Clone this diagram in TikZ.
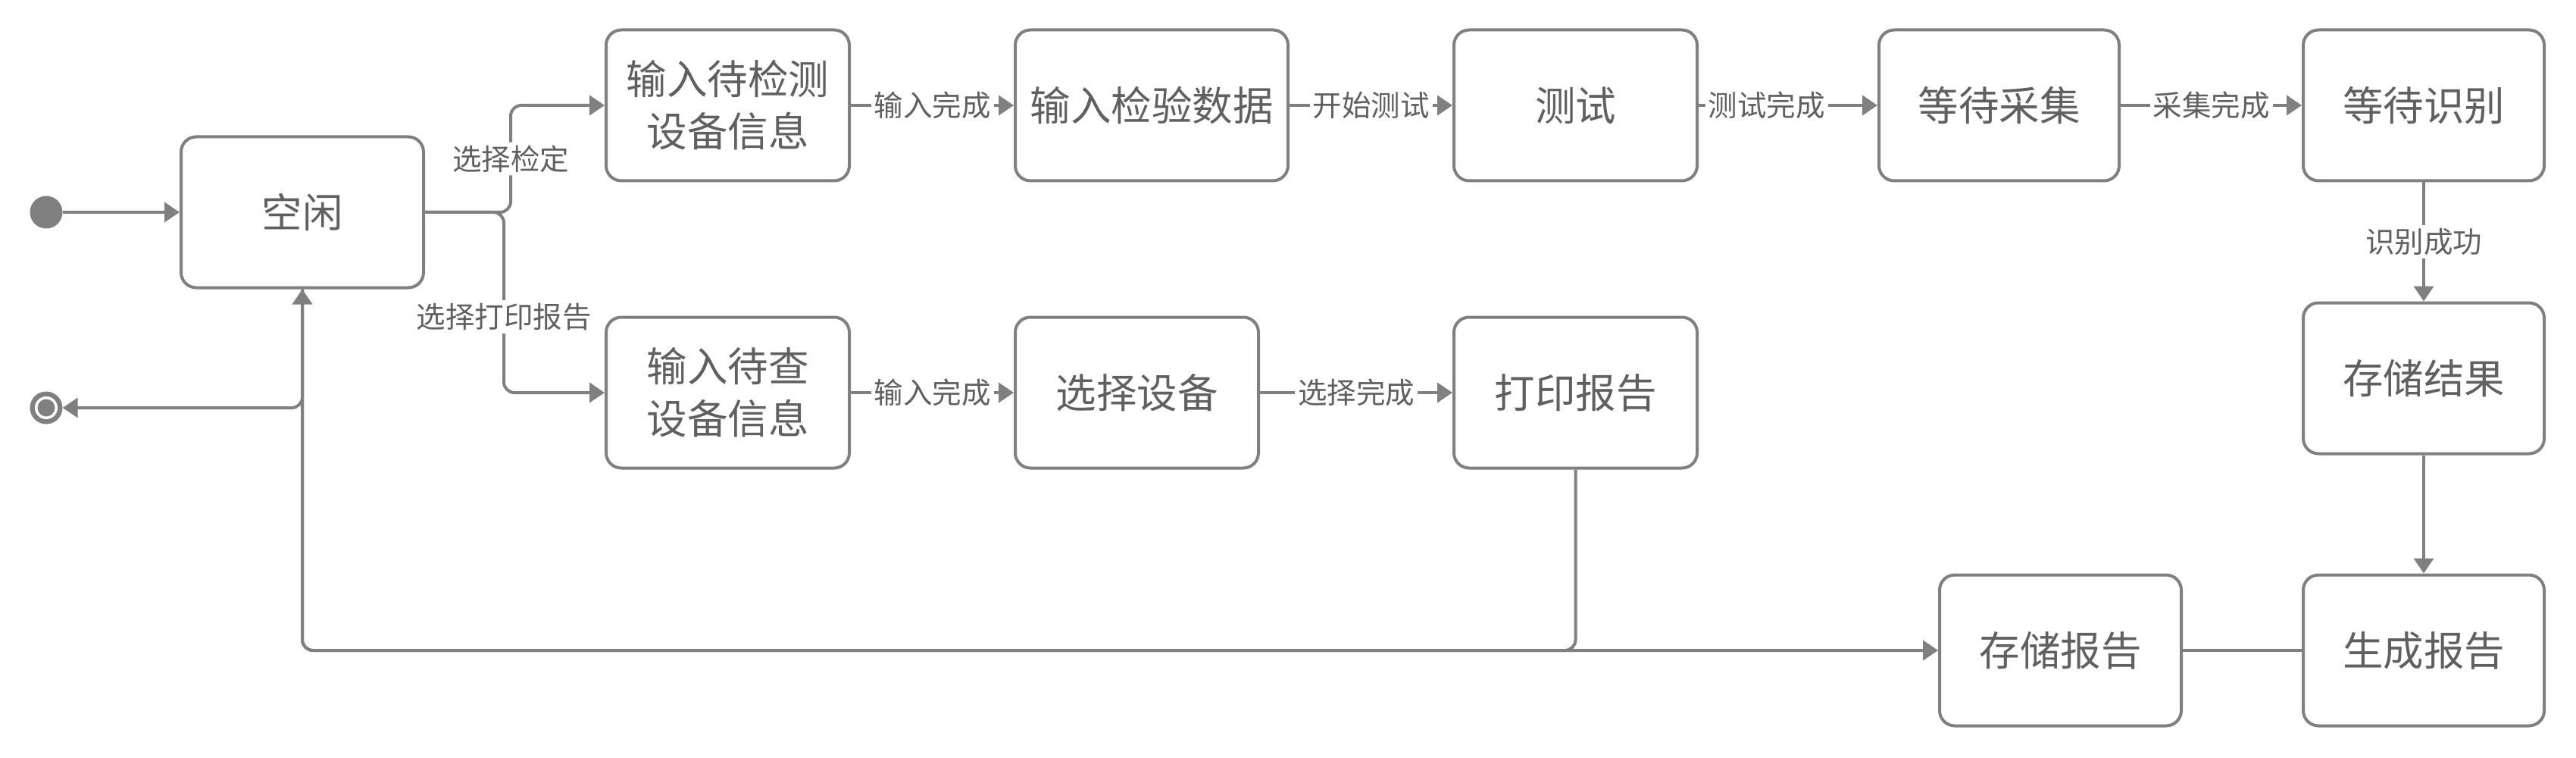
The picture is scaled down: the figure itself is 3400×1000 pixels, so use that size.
\documentclass[tikz,border=0pt]{standalone}
\usepackage{fontspec}
\setmainfont{Noto Sans CJK SC}
\usetikzlibrary{arrows.meta}
\definecolor{lc}{HTML}{808080}
\definecolor{tc}{HTML}{606060}
\tikzset{
  state/.style={draw=lc, line width=4pt, rounded corners=20pt, fill=white, text=tc,
    font=\fontsize{53.5}{69}\selectfont, align=center, minimum height=199pt,
    minimum width=320pt, inner sep=0pt},
  conn/.style={draw=lc, line width=4pt, -{Triangle[length=20pt,width=26pt]}},
  plain/.style={draw=lc, line width=4pt},
  lbl/.style={fill=white, text=tc, font=\fontsize{38.5}{42}\selectfont, inner sep=4pt},
  dot/.style={circle, fill=lc, minimum size=43pt, inner sep=0pt},
}
\begin{document}
\begin{tikzpicture}[x=1pt,y=-1pt]
\useasboundingbox (0,0) rectangle (3400,1000);
% nodes
\node[dot] (init) at (61,280) {};
\node[dot] (fin) at (61,538) {};
\fill[white] (fin) circle (15pt);
\fill[lc] (fin) circle (11.5pt);
\node[state] (idle) at (399,280) {空闲};
\node[state, minimum width=321pt] (in1) at (960.5,139) {输入待检测\\设备信息};
\node[state, minimum width=360pt] (data) at (1520,139) {输入检验数据};
\node[state, minimum width=321pt] (test) at (2079.5,139) {测试};
\node[state, minimum width=317pt] (wcol) at (2638.5,139) {等待采集};
\node[state, minimum width=318pt] (wrec) at (3199,139) {等待识别};
\node[state, minimum width=318pt] (sres) at (3199,499) {存储结果};
\node[state, minimum width=318pt] (genr) at (3199,858) {生成报告};
\node[state, minimum width=319pt] (srep) at (2719.5,858) {存储报告};
\node[state, minimum width=321pt] (in2) at (960.5,518) {输入待查\\设备信息};
\node[state, minimum width=321pt] (sel) at (1500.5,518) {选择设备};
\node[state, minimum width=321pt] (prt) at (2079.5,518) {打印报告};
\coordinate (bl) at (399,858);
% connectors
\draw[conn] (init) -- (idle);
\draw[conn, rounded corners=14pt] (idle.east) -- ++(113,0) |- node[lbl, pos=0.25] {选择检定} (in1.west);
\draw[conn, rounded corners=14pt] (idle.east) -- ++(104,0) |- node[lbl, pos=0.29] {选择打印报告} (in2.west);
\draw[conn] (in1) -- node[lbl] {输入完成} (data);
\draw[conn] (data) -- node[lbl] {开始测试} (test);
\draw[conn] (test) -- node[lbl, pos=0.38] {测试完成} (wcol);
\draw[conn] (wcol) -- node[lbl] {采集完成} (wrec);
\draw[conn] (wrec) -- node[lbl] {识别成功} (sres);
\draw[conn] (sres) -- (genr);
\draw[plain] (genr) -- (srep);
\draw[conn] (in2) -- node[lbl] {输入完成} (sel);
\draw[conn] (sel) -- node[lbl] {选择完成} (prt);
\draw[conn, rounded corners=14pt] (idle.south) |- (srep.west);
\draw[conn, rounded corners=14pt] (prt.south) |- (bl) -- (idle.south);
\draw[conn, rounded corners=14pt] (idle.south) |- (fin);
\end{tikzpicture}
\end{document}
